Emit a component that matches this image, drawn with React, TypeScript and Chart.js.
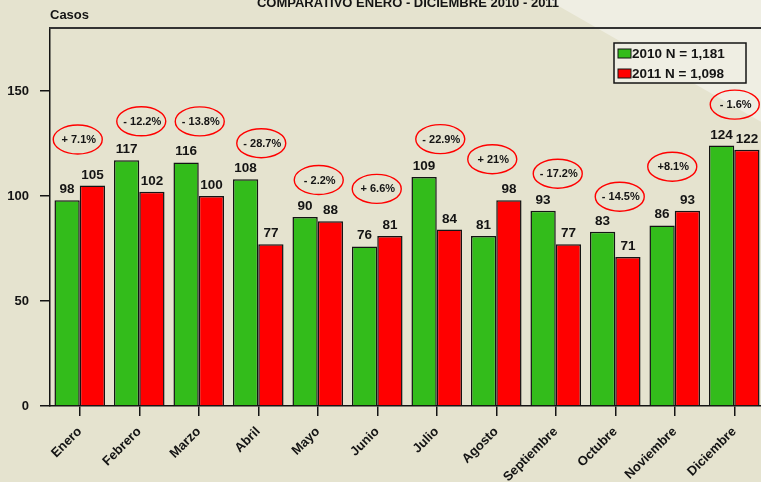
import React, { useEffect, useRef } from 'react';
import { Chart, registerables } from 'chart.js';

Chart.register(...registerables);

// ---- data ----
const months = ['Enero', 'Febrero', 'Marzo', 'Abril', 'Mayo', 'Junio', 'Julio', 'Agosto', 'Septiembre', 'Octubre', 'Noviembre', 'Diciembre'];
const cases2010 = [98, 117, 116, 108, 90, 76, 109, 81, 93, 83, 86, 124];
const cases2011 = [105, 102, 100, 77, 88, 81, 84, 98, 77, 71, 93, 122];
const changeLabels = ['+ 7.1%', '- 12.2%', '- 13.8%', '- 28.7%', '- 2.2%', '+ 6.6%', '- 22.9%', '+ 21%', '- 17.2%', '- 14.5%', '+8.1%', '- 1.6%'];
const legendLabels = ['2010 N = 1,181', '2011 N = 1,098'];
const yTickValues = [0, 50, 100, 150];
const titleText = 'COMPARATIVO ENERO - DICIEMBRE 2010 - 2011';
const yAxisTitle = 'Casos';

// ---- layout of the callout ellipses (pixels, relative to the taller bar of each month) ----
const calloutLift = [46, 39, 41, 36, 37, 47, 38, 41, 37, 35, 44, 41];
const calloutShift = [-2, 2, 1, 3, 1, -0.5, 3.5, -4, 2, 4.5, -2.5, 0.5];

// ---- styles ----
const FONT = '"Liberation Sans", Arial, Helvetica, sans-serif';
const BG = '#E5E3CF';
const BG_LIGHT = '#EFEEE3';
const GREEN = '#33BC1B';
const RED = '#FF0000';
const INK = '#141414';

const decoPlugin = {
  id: 'deco',
  beforeDraw(chart: any) {
    const { ctx, width, height } = chart;
    ctx.save();
    ctx.fillStyle = BG;
    ctx.fillRect(0, 0, width, height);
    ctx.fillStyle = BG_LIGHT;
    ctx.beginPath();
    ctx.moveTo(548, 0);
    ctx.lineTo(width, 0);
    ctx.lineTo(width, (width - 548) / 1.75);
    ctx.closePath();
    ctx.fill();
    ctx.restore();
  },
  afterDatasetsDraw(chart: any) {
    const { ctx } = chart;
    const yScale = chart.scales.y;
    const xScale = chart.scales.x;
    ctx.save();
    // value labels
    ctx.fillStyle = INK;
    ctx.font = `bold 13.5px ${FONT}`;
    ctx.textAlign = 'center';
    ctx.textBaseline = 'alphabetic';
    chart.data.datasets.forEach((ds: any, di: number) => {
      const meta = chart.getDatasetMeta(di);
      meta.data.forEach((el: any, i: number) => {
        ctx.fillText(String(ds.data[i]), el.x, el.y - 7);
      });
    });
    // callouts
    months.forEach((_, i) => {
      const top = yScale.getPixelForValue(Math.max(cases2010[i], cases2011[i]));
      const cx = xScale.getPixelForValue(i) + calloutShift[i];
      const cy = top - calloutLift[i];
      ctx.beginPath();
      ctx.ellipse(cx, cy, 24.5, 14.5, 0, 0, Math.PI * 2);
      ctx.strokeStyle = RED;
      ctx.lineWidth = 1.4;
      ctx.stroke();
      ctx.fillStyle = INK;
      ctx.font = `bold 11px ${FONT}`;
      ctx.textAlign = 'center';
      ctx.textBaseline = 'middle';
      ctx.fillText(changeLabels[i], cx + 1, cy + 0.5);
    });
    ctx.restore();
  },
  afterDraw(chart: any) {
    const { ctx, chartArea, width } = chart;
    ctx.save();
    // top frame line
    ctx.strokeStyle = '#333';
    ctx.lineWidth = 2;
    ctx.beginPath();
    ctx.moveTo(chartArea.left - 0.75, chartArea.top);
    ctx.lineTo(width, chartArea.top);
    ctx.stroke();
    // title
    ctx.fillStyle = INK;
    ctx.font = `bold 13px ${FONT}`;
    ctx.textAlign = 'center';
    ctx.textBaseline = 'alphabetic';
    ctx.fillText(titleText, 408, 7);
    // y title
    ctx.textAlign = 'left';
    ctx.fillText(yAxisTitle, chartArea.left, 19);
    // legend
    const lx = 614, ly = 43, lw = 132, lh = 40;
    ctx.fillStyle = BG_LIGHT;
    ctx.fillRect(lx, ly, lw, lh);
    ctx.strokeStyle = INK;
    ctx.lineWidth = 1.5;
    ctx.strokeRect(lx, ly, lw, lh);
    const colors = [GREEN, RED];
    legendLabels.forEach((t, i) => {
      const rowY = ly + 10.5 + i * 20;
      ctx.fillStyle = colors[i];
      ctx.fillRect(618, rowY - 4.5, 13, 9);
      ctx.strokeStyle = INK;
      ctx.lineWidth = 1;
      ctx.strokeRect(618, rowY - 4.5, 13, 9);
      ctx.fillStyle = INK;
      ctx.font = `bold 13.5px ${FONT}`;
      ctx.textAlign = 'left';
      ctx.textBaseline = 'middle';
      ctx.fillText(t, 632, rowY + 0.5);
    });
    ctx.restore();
  },
};

export default function App() {
  const ref = useRef<HTMLCanvasElement>(null);

  useEffect(() => {
    const canvas = ref.current;
    if (!canvas) return;
    const chart = new Chart(canvas, {
      type: 'bar',
      data: {
        labels: months,
        datasets: [
          {
            label: legendLabels[0],
            data: cases2010,
            backgroundColor: GREEN,
            borderColor: INK,
            borderWidth: 1.5,
            categoryPercentage: 0.85,
            barPercentage: 1,
          },
          {
            label: legendLabels[1],
            data: cases2011,
            backgroundColor: RED,
            borderColor: INK,
            borderWidth: 1.5,
            categoryPercentage: 0.85,
            barPercentage: 1,
          },
        ],
      },
      options: {
        responsive: false,
        animation: false,
        devicePixelRatio: 1,
        layout: { padding: { top: 28, left: 0, right: 0, bottom: 0 } },
        plugins: {
          legend: { display: false },
          tooltip: { enabled: false },
          title: { display: false },
        },
        scales: {
          x: {
            type: 'category',
            offset: true,
            grid: {
              display: true,
              drawOnChartArea: false,
              drawTicks: true,
              tickLength: 10,
              offset: false,
              color: INK,
              lineWidth: 1.5,
            },
            border: { display: true, color: INK, width: 1.5 },
            ticks: {
              autoSkip: false,
              maxRotation: 45,
              minRotation: 45,
              padding: 8,
              color: INK,
              font: { family: FONT, size: 13, weight: 'bold' },
            },
            afterFit: (s: any) => {
              s.height = 76;
            },
          },
          y: {
            min: 0,
            max: 180,
            afterBuildTicks: (s: any) => {
              s.ticks = yTickValues.map((v) => ({ value: v }));
            },
            ticks: {
              includeBounds: false,
              padding: 11,
              color: INK,
              font: { family: FONT, size: 13, weight: 'bold' },
            },
            grid: {
              display: true,
              drawOnChartArea: false,
              drawTicks: true,
              tickLength: 10,
              color: INK,
              lineWidth: 1.5,
            },
            border: { display: true, color: INK, width: 1.5 },
            afterFit: (s: any) => {
              s.width = 50;
            },
          },
        },
      } as any,
      plugins: [decoPlugin],
    });
    return () => chart.destroy();
  }, []);

  return (
    <div
      style={{
        position: 'fixed',
        left: 0,
        top: 0,
        width: 761,
        height: 482,
        overflow: 'hidden',
        background: BG,
      }}
    >
      <canvas ref={ref} width={764} height={482} style={{ display: 'block', width: 764, height: 482 }} />
    </div>
  );
}
